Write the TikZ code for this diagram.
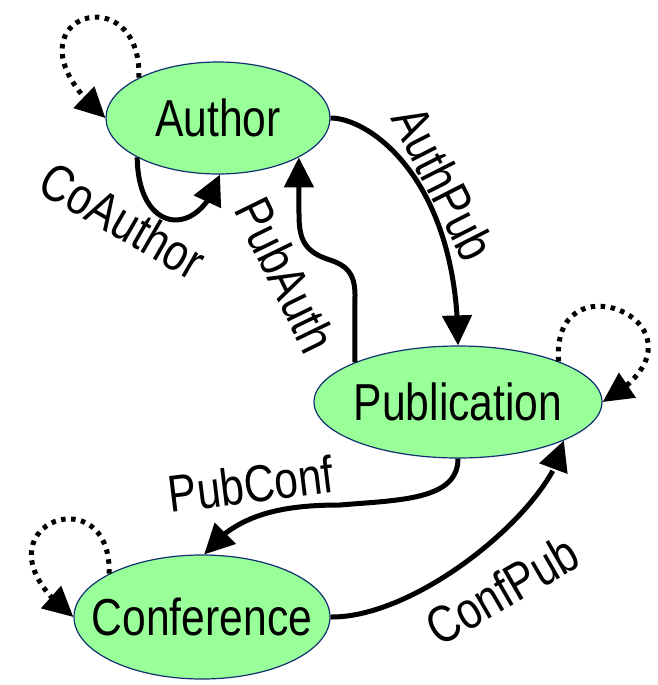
\documentclass[tikz,border=0pt]{standalone}
\usepackage{fontspec}
\setmainfont[FakeStretch=0.82]{Liberation Sans}
\usetikzlibrary{arrows.meta,bending,shapes.geometric}
\begin{document}
\begin{tikzpicture}[x=1pt,y=-1pt,
  ent/.style={ellipse, draw={rgb,255:red,16;green,48;blue,112}, line width=1.2pt,
    fill={rgb,255:red,153;green,255;blue,153}, inner sep=0pt},
  lbl/.style={font=\fontsize{52}{60}\selectfont, inner sep=0pt},
  rel/.style={line width=5pt, -{Triangle[length=30pt,width=29pt]}},
  selfrel/.style={rel, dash pattern=on 4.5pt off 5.5pt}
]
\useasboundingbox (0,0) rectangle (657,685);
% entities
\node[ent, minimum width=224pt, minimum height=112pt] (A) at (218,118) {};
\node[ent, minimum width=288pt, minimum height=112pt] (P) at (458,402) {};
\node[ent, minimum width=256pt, minimum height=124pt] (C) at (202,617) {};
\node[lbl] (At) at (A) {Author};
\node[lbl] (Pt) at (P) {Publication};
\node[lbl] (Ct) at (C) {Conference};
% self loops
\draw[selfrel] (A.153) .. controls (142,-30) and (-10,20) .. (A.180);
\draw[selfrel] (P.22) .. controls (550,250) and (730,330) .. (P.0);
\draw[selfrel] (C.155) .. controls (112,470) and (-40,530) .. (C.180);
% relations
\draw[rel] (A.206) .. controls (138,235) and (200,240) .. (A.272);
\draw[rel] (A.0) .. controls (370,118) and (458,180) .. (P.90);
\draw[rel] (P.159) -- (355,295) .. controls (355,272) and (345,265) .. (330,260)
                   .. controls (305,252) and (299,240) .. (299,215) -- (A.334);
\draw[rel] (P.270) .. controls (458,500) and (400,500) .. (340,505)
                   .. controls (280,505) and (235,515) .. (C.88);
\draw[rel] (C.0) .. controls (420,618) and (555,505) .. (P.340);
% labels
\node[lbl, rotate=-30] (lCo) at (123,220) {CoAuthor};
\node[lbl, rotate=-63] (lAP) at (444,183) {AuthPub};
\node[lbl, rotate=-64] (lPA) at (286,275) {PubAuth};
\node[lbl, rotate=7] (lPC) at (251,484) {PubConf};
\node[lbl, rotate=30] (lCP) at (502,590) {ConfPub};
\end{tikzpicture}
\end{document}
